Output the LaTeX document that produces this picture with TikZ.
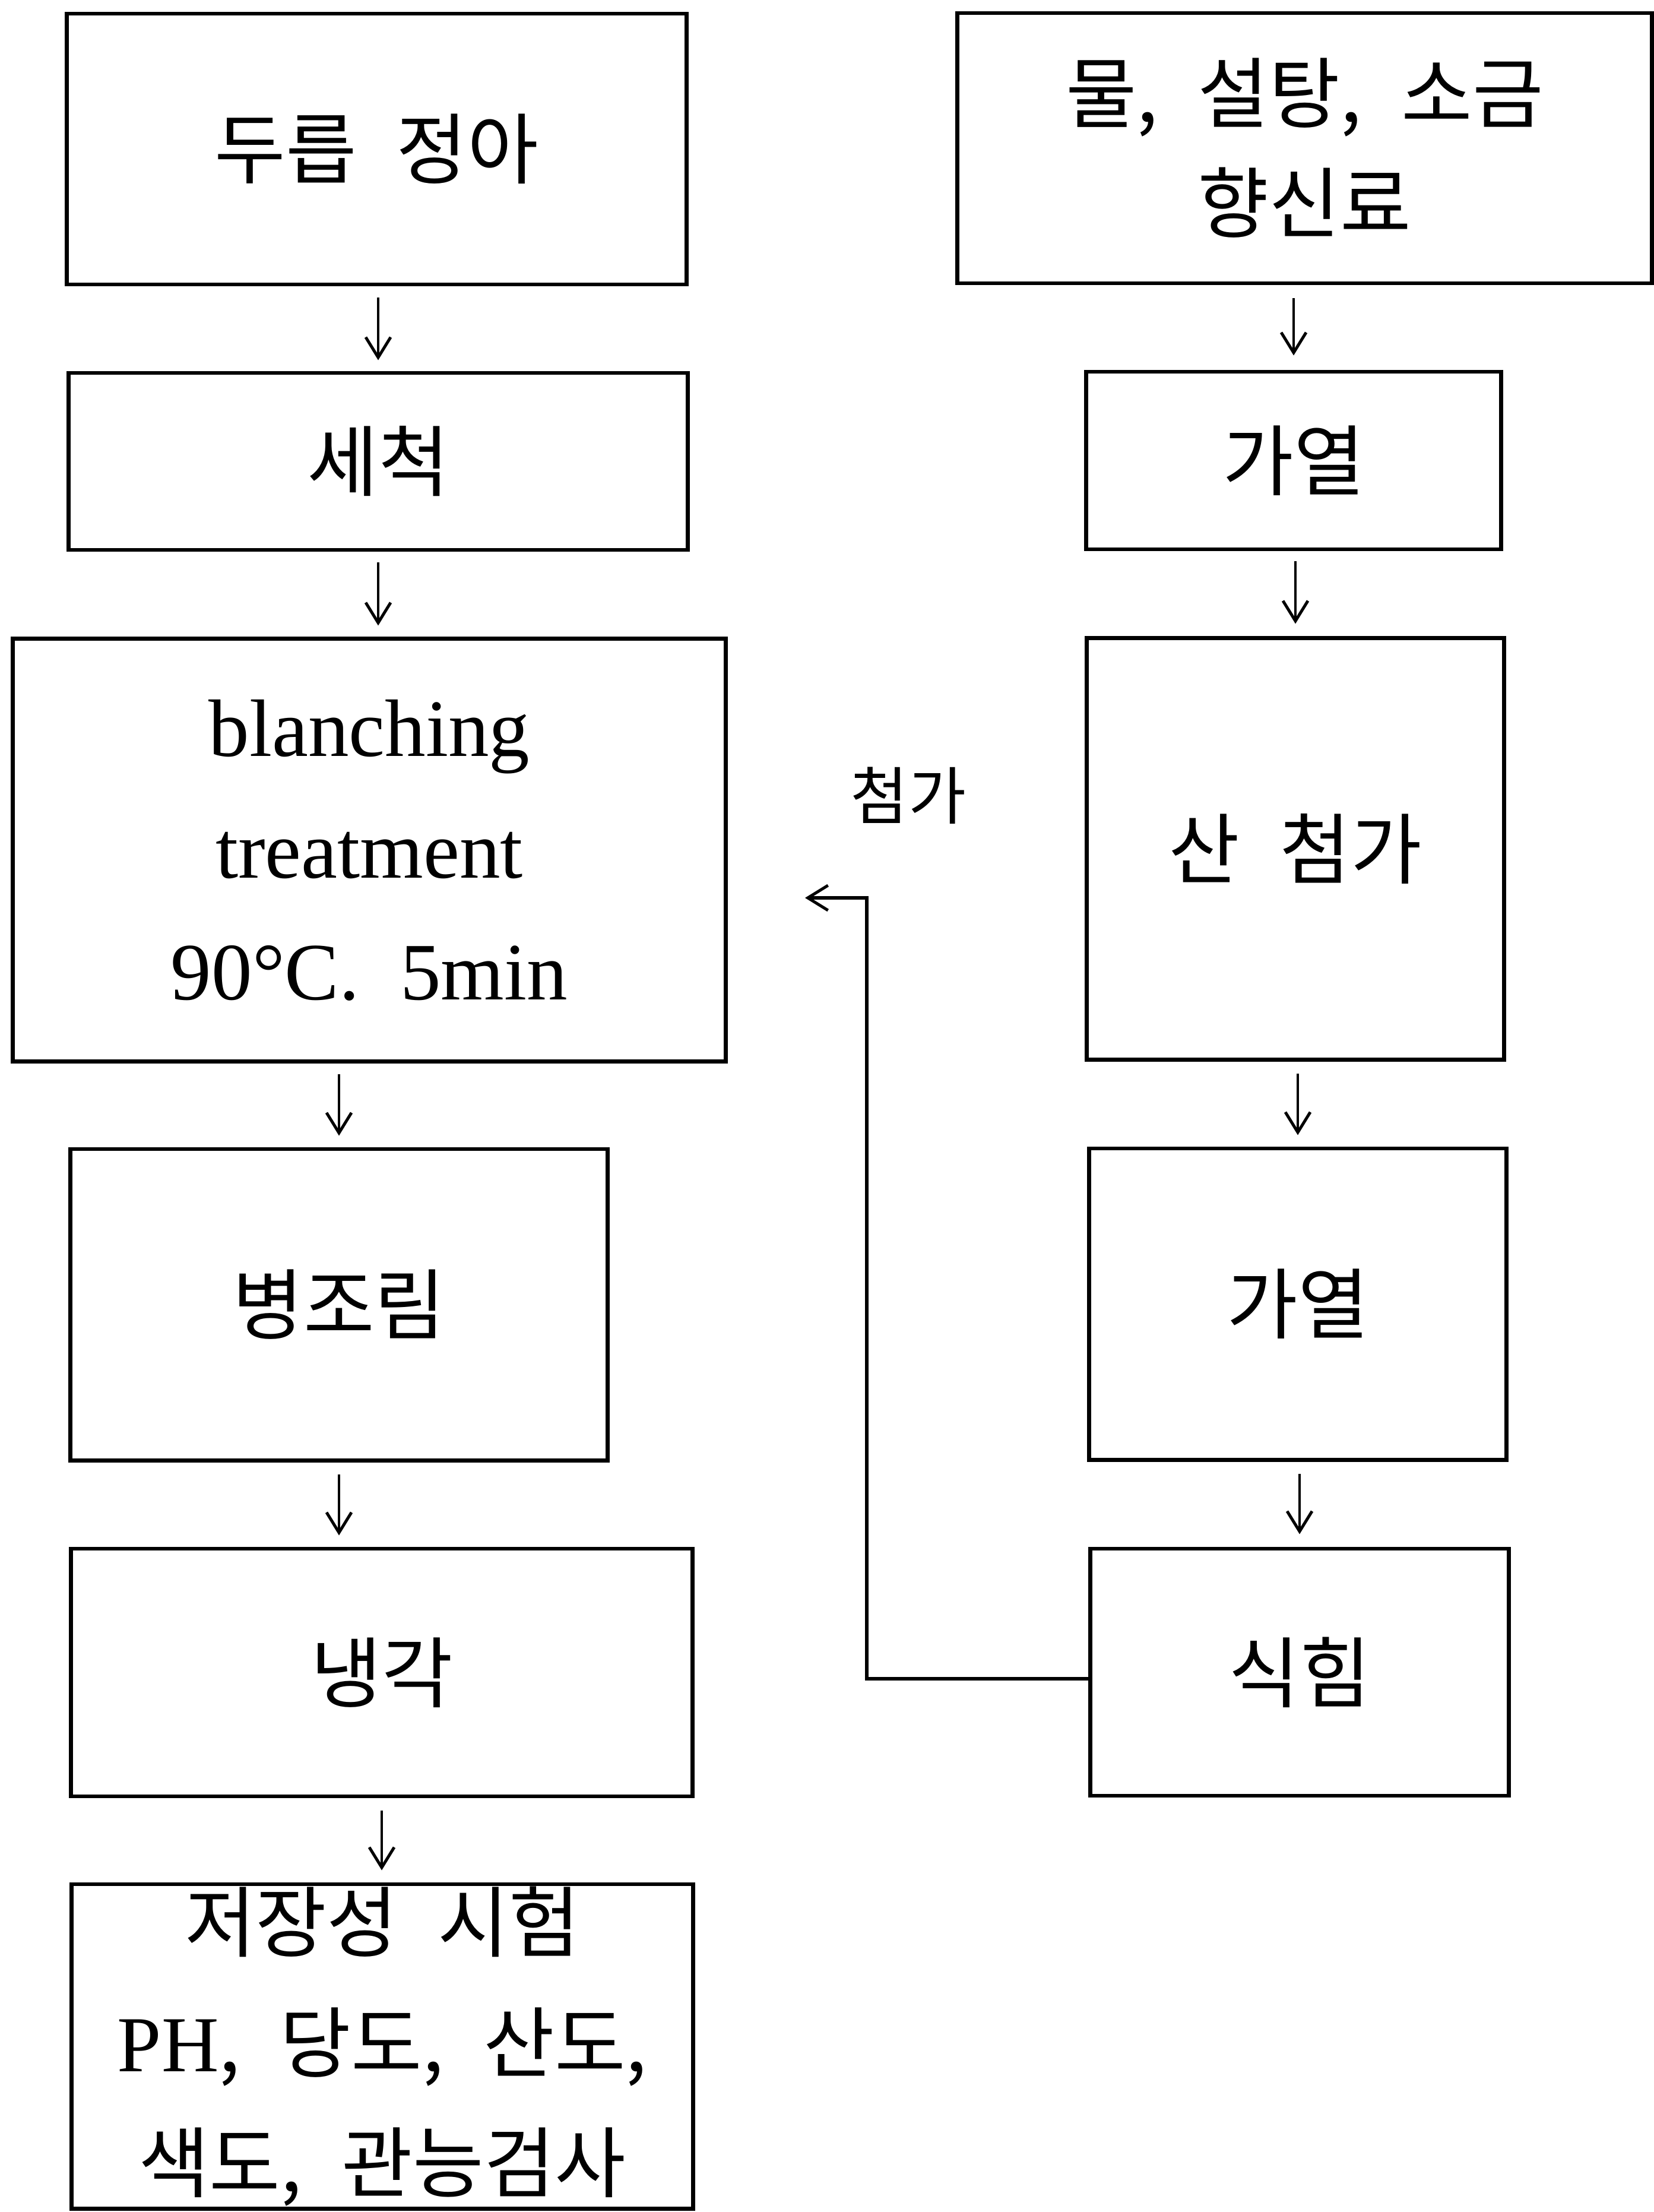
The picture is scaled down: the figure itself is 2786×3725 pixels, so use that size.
\documentclass[tikz,border=0pt]{standalone}
\usepackage{fontspec}
\setmainfont{Liberation Serif}
\newfontfamily\kr[WordSpace=2.3]{Noto Sans CJK KR}
\usetikzlibrary{arrows.meta}
\begin{document}
\begin{tikzpicture}[x=0.01cm,y=-0.01cm,
  box/.style={draw, line width=1.9pt, rectangle, inner sep=0pt, align=center,
    font=\kr\fontsize{37}{52.6}\selectfont},
  latin/.style={font=\rmfamily\fontsize{39}{58.3}\selectfont},
  tip/.style={-{Straight Barb[length=0.34cm,width=0.42cm,line width=1.4pt]}},
  flow/.style={line width=1.4pt, tip},
  feed/.style={line width=1.6pt, tip},
  note/.style={inner sep=0pt, font=\kr\fontsize{30}{36}\selectfont}]
\useasboundingbox (0,0) rectangle (2786,3725);

% left column: processing of the shoots
\node[box, minimum width=10.43cm, minimum height=4.56cm] (L1) at (634.5,251) {두릅 정아};
\node[box, minimum width=10.42cm, minimum height=2.98cm] (L2) at (637,777) {세척};
\node[box, latin, minimum width=12.00cm, minimum height=7.11cm] (L3) at (622,1431.5)
  {blanching\\treatment\\90°C.\enspace 5min};
\node[box, minimum width=9.04cm, minimum height=5.24cm] (L4) at (571,2197) {병조림};
\node[box, minimum width=10.46cm, minimum height=4.17cm] (L5) at (643,2816.5) {냉각};
\node[box, font=\kr\fontsize{37}{57.6}\selectfont, minimum width=10.46cm, minimum height=5.46cm]
  (L6) at (644,3446) {저장성 시험\\{\rmfamily\fontsize{38}{57.6}\selectfont PH}, 당도, 산도,\\색도, 관능검사};

% right column: pickling liquid
\node[box, minimum width=11.69cm, minimum height=4.55cm] (R1) at (2197.5,249.5) {물, 설탕, 소금\\향신료};
\node[box, minimum width=6.98cm, minimum height=2.99cm] (R2) at (2179,775.5) {가열};
\node[box, minimum width=7.02cm, minimum height=7.09cm] (R3) at (2182,1429.5) {산 첨가};
\node[box, minimum width=7.02cm, minimum height=5.24cm] (R4) at (2186,2196) {가열};
\node[box, minimum width=7.04cm, minimum height=4.16cm] (R5) at (2189,2816) {식힘};

% step arrows (they stop short of the boxes)
\draw[flow] ([yshift=-0.19cm]L1.south -| L2.north) -- ([yshift=0.18cm]L2.north);
\draw[flow] ([yshift=-0.18cm]L2.south -| L2.north) -- ([yshift=0.19cm]L3.north -| L2.north);
\draw[flow] ([yshift=-0.18cm]L3.south -| L4.north) -- ([yshift=0.19cm]L4.north);
\draw[flow] ([yshift=-0.20cm]L4.south) -- ([yshift=0.19cm]L5.north -| L4.south);
\draw[flow] ([yshift=-0.20cm]L5.south) -- ([yshift=0.20cm]L6.north -| L5.south);

\draw[flow] ([yshift=-0.22cm]R1.south -| R2.north) -- ([yshift=0.24cm]R2.north);
\draw[flow] ([yshift=-0.17cm]R2.south -| R3.north) -- ([yshift=0.21cm]R3.north);
\draw[flow] ([yshift=-0.20cm]R3.south -| R4.north) -- ([yshift=0.19cm]R4.north);
\draw[flow] ([yshift=-0.20cm]R4.south -| R5.north) -- ([yshift=0.21cm]R5.north);

% feed of the cooled liquid back to the left column
\coordinate (bend) at (1460,1512);
\coordinate (addtip) at (1356,1512);
\draw[feed] ([yshift=-0.11cm]R5.west) -| (bend) -- (addtip);
\node[note] (add) at (1530,1340) {첨가};
\end{tikzpicture}
\end{document}
